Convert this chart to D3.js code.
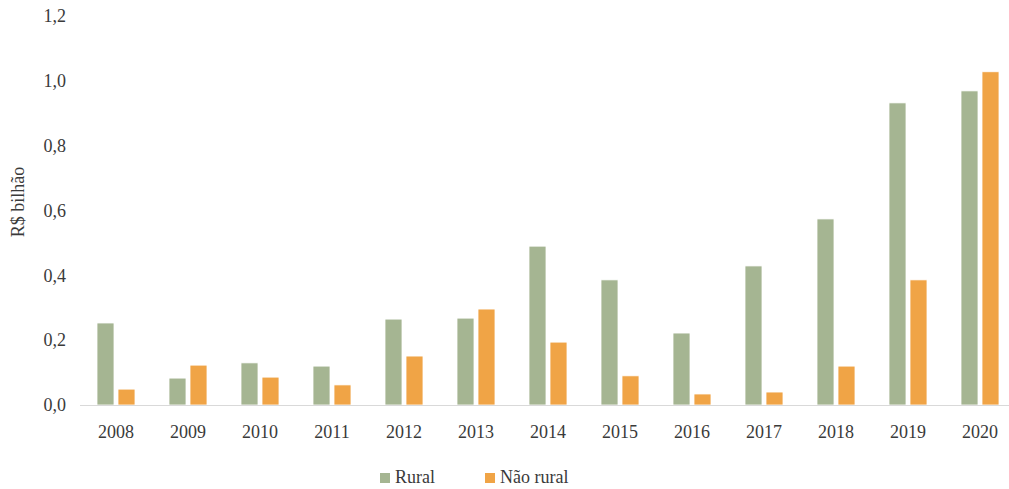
<!DOCTYPE html>
<html>
<head>
<meta charset="utf-8">
<script src="https://cdn.jsdelivr.net/npm/d3@7"></script>
<style>
  body { margin: 0; background: #fff; }
  svg text { font-family: "Liberation Serif", "DejaVu Serif", serif; fill: #3a3a3a; }
</style>
</head>
<body>
<svg id="chart" width="1009" height="489"></svg>
<script>
// Years on the horizontal axis
const years = ["2008","2009","2010","2011","2012","2013","2014","2015","2016","2017","2018","2019","2020"];
// Values in R$ billion
const rural    = [0.253, 0.083, 0.130, 0.120, 0.265, 0.268, 0.490, 0.386, 0.222, 0.429, 0.574, 0.932, 0.969];
const naoRural = [0.049, 0.123, 0.086, 0.062, 0.151, 0.296, 0.194, 0.090, 0.034, 0.040, 0.120, 0.386, 1.028];
const yTicks = [0, 0.2, 0.4, 0.6, 0.8, 1.0, 1.2];
const seriesNames = ["Rural", "Não rural"];
const colors = ["#a5b592", "#f0a446"];

const svg = d3.select("#chart");

const x = d3.scaleBand().domain(years).range([80, 1016]).paddingInner(0).paddingOuter(0);
const y = d3.scaleLinear().domain([0, 1.2]).range([405, 16]);

const fmt = d => d3.format(".1f")(d).replace(".", ",");

// y-axis tick labels
svg.append("g")
  .selectAll("text")
  .data(yTicks)
  .join("text")
  .attr("x", 66)
  .attr("y", d => y(d))
  .attr("dy", "0.35em")
  .attr("text-anchor", "end")
  .attr("font-size", 18)
  .text(fmt);

// y-axis title
svg.append("text")
  .attr("transform", "translate(24,202) rotate(-90)")
  .attr("text-anchor", "middle")
  .attr("font-size", 18)
  .text("R$ bilhão");

// bars
const barW = 17, gap = 4;
const series = [rural, naoRural];
series.forEach((vals, s) => {
  svg.append("g")
    .selectAll("rect")
    .data(years.map((yr, i) => ({ yr, v: vals[i] })))
    .join("rect")
    .attr("x", d => x(d.yr) + x.bandwidth() / 2 + (s === 0 ? -(barW + gap / 2) : gap / 2))
    .attr("y", d => y(d.v))
    .attr("width", barW)
    .attr("height", d => y(0) - y(d.v))
    .attr("fill", colors[s])
    .attr("stroke", "#ffffff")
    .attr("stroke-width", 0.8);
});

// x axis baseline
svg.append("line")
  .attr("x1", 80).attr("x2", 1009)
  .attr("y1", y(0) + 0.5).attr("y2", y(0) + 0.5)
  .attr("stroke", "#d9d9d9").attr("stroke-width", 1.2);

// x-axis labels
svg.append("g")
  .selectAll("text")
  .data(years)
  .join("text")
  .attr("x", d => x(d) + x.bandwidth() / 2)
  .attr("y", 438)
  .attr("text-anchor", "middle")
  .attr("font-size", 18)
  .text(d => d);

// legend
const legendX = [380, 485];
const lg = svg.append("g");
seriesNames.forEach((name, i) => {
  lg.append("rect")
    .attr("x", legendX[i]).attr("y", 473)
    .attr("width", 10).attr("height", 10)
    .attr("fill", colors[i]);
  lg.append("text")
    .attr("x", legendX[i] + 15).attr("y", 483)
    .attr("font-size", 18)
    .text(name);
});
</script>
</body>
</html>
